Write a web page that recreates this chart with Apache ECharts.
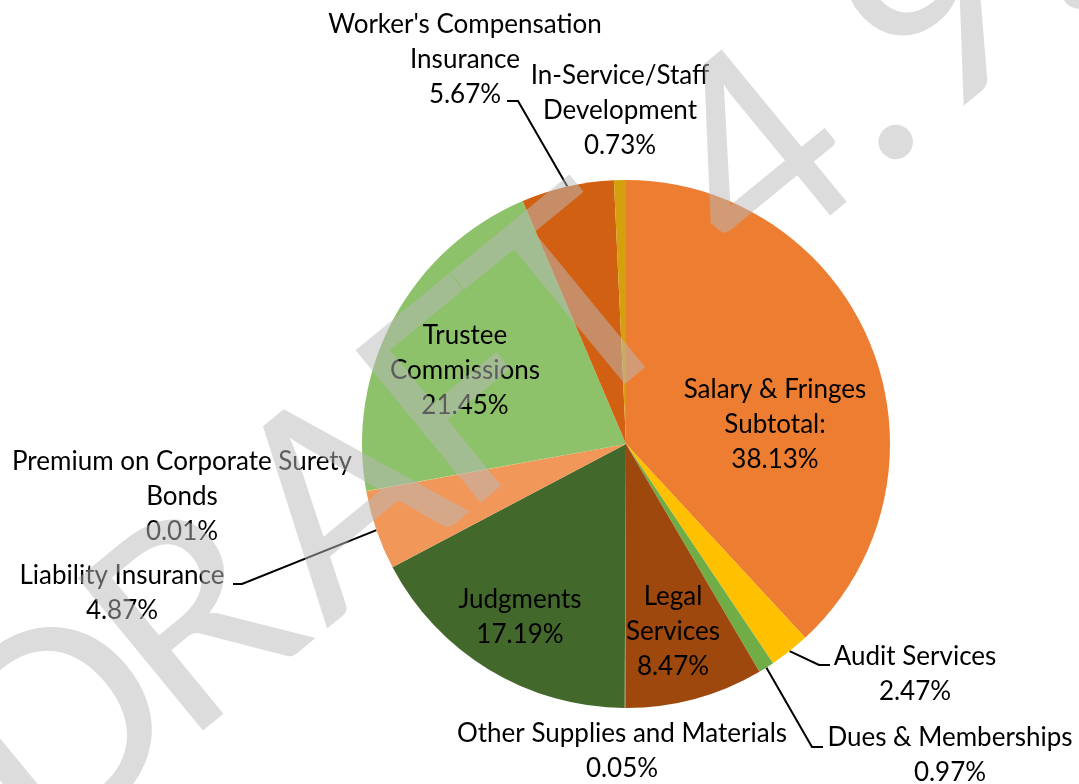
<!DOCTYPE html>
<html>
<head>
<meta charset="utf-8">
<script src="https://cdn.jsdelivr.net/npm/echarts@6/dist/echarts.min.js"></script>
<style>
html,body{margin:0;padding:0;background:#fff;}
#chart{width:1079px;height:784px;}
</style>
</head>
<body>
<div id="chart"></div>
<script>
// ---- data ----
const categories = ["Salary & Fringes Subtotal:", "Audit Services", "Dues & Memberships", "Legal Services",
  "Other Supplies and Materials", "Judgments", "Liability Insurance", "Premium on Corporate Surety Bonds",
  "Trustee Commissions", "Worker's Compensation Insurance", "In-Service/Staff Development"];
const values = [38.13, 2.47, 0.97, 8.47, 0.05, 17.19, 4.87, 0.01, 21.45, 5.67, 0.73];
// label text as wrapped in the picture
const labelNames = ["Salary & Fringes\nSubtotal:", "Audit Services", "Dues & Memberships", "Legal\nServices",
  "Other Supplies and Materials", "Judgments", "Liability Insurance", "Premium on Corporate Surety\nBonds",
  "Trustee\nCommissions", "Worker's Compensation\nInsurance", "In-Service/Staff\nDevelopment"];
const watermarkChars = ["D", "R", "A", "F", "T", "4", ".", "9", "."];

// ---- styles / layout ----
const colors = ["#ED7D31", "#FFC000", "#70AD47", "#9E480E", "#997300", "#43682B",
  "#F1975A", "#FFCD33", "#8DC16A", "#D26012", "#D4A00C"];
const CX = 626, CY = 444, R = 264;
// label block centres and leader elbows
const labelLayoutTable = [
  { x: 775, y: 425, inside: true },
  { x: 915, y: 674, line: [[819, 665], [830, 665]] },
  { x: 950, y: 755, line: [[812, 747], [823, 747]] },
  { x: 673, y: 632, inside: true },
  { x: 622, y: 751 },
  { x: 520, y: 617, inside: true },
  { x: 122, y: 593, line: [[242, 584], [233, 584]] },
  { x: 182, y: 497 },
  { x: 465, y: 371, inside: true },
  { x: 465, y: 60, line: [[518, 101], [507, 101]] },
  { x: 620, y: 111 }
];
// watermark: baseline anchor, angle, glyph centres along the baseline
const WM = { base: [853, 197], angle: 39.4, font: '275px Lato', midOffset: 89,
  centers: [-950, -780, -588, -429, -282, -50, 68, 187, 305] };

const total = values.reduce((a, b) => a + b, 0);
function arcPoint(i) {
  let cum = 0;
  for (let k = 0; k < i; k++) cum += values[k];
  const mid = (cum + values[i] / 2) / total;
  const ang = Math.PI / 2 - mid * 2 * Math.PI;
  return [CX + R * Math.cos(ang), CY - R * Math.sin(ang)];
}

const data = categories.map((c, i) => ({
  name: c,
  value: values[i],
  itemStyle: { color: colors[i] },
  label: { position: labelLayoutTable[i].inside ? 'inside' : 'outside' },
  labelLine: { show: !!labelLayoutTable[i].line }
}));

const th = WM.angle * Math.PI / 180;
const ux = Math.cos(th), uy = -Math.sin(th), vx = Math.sin(th), vy = Math.cos(th);
const watermark = watermarkChars.map((ch, i) => {
  const s = WM.centers[i];
  return {
    type: 'text', z: 100, silent: true,
    x: WM.base[0] + s * ux - WM.midOffset * vx,
    y: WM.base[1] + s * uy - WM.midOffset * vy,
    rotation: th,
    style: { text: ch, font: WM.font, fill: 'rgba(185,185,185,0.5)', textAlign: 'center', textVerticalAlign: 'middle' }
  };
});

const chart = echarts.init(document.getElementById('chart'), null, { renderer: 'canvas' });
chart.setOption({
  backgroundColor: '#fff',
  animation: false,
  series: [{
    type: 'pie',
    center: [CX, CY],
    radius: R,
    startAngle: 90,
    clockwise: true,
    avoidLabelOverlap: false,
    itemStyle: { borderWidth: 0 },
    emphasis: { disabled: true },
    data: data,
    label: {
      show: true,
      color: '#000',
      fontFamily: 'Lato',
      fontSize: 26,
      lineHeight: 35,
      formatter: p => labelNames[p.dataIndex] + '\n' + values[p.dataIndex].toFixed(2) + '%'
    },
    labelLine: { show: true, length: 10, length2: 10, smooth: false, lineStyle: { color: '#000', width: 2 } },
    labelLayout: function (p) {
      const L = labelLayoutTable[p.dataIndex];
      const res = { x: L.x, y: L.y, align: 'center', verticalAlign: 'middle' };
      if (L.line) res.labelLinePoints = [arcPoint(p.dataIndex), L.line[0], L.line[1]];
      return res;
    }
  }],
  graphic: watermark
});
</script>
</body>
</html>
